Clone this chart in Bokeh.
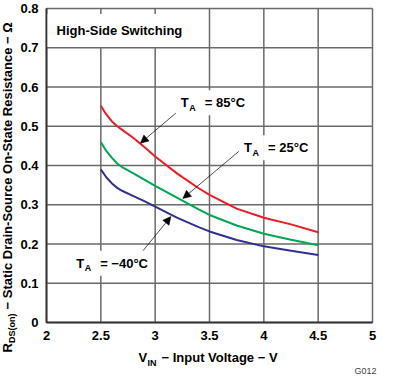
import math
from bokeh.plotting import figure
from bokeh.models import Range1d, FixedTicker, Label, Arrow, NormalHead, LinearAxis
from bokeh.embed import file_html
from bokeh.resources import INLINE

# ---- data ----
v_in = [2.5, 2.55, 2.6, 2.65, 2.7, 2.8, 2.9, 3.0, 3.2, 3.4, 3.5, 3.75, 4.0, 4.25, 4.5]
r_85 = [0.552, 0.530, 0.513, 0.500, 0.490, 0.470, 0.447, 0.423, 0.380, 0.342, 0.325, 0.290, 0.267, 0.250, 0.230]
r_25 = [0.460, 0.437, 0.420, 0.405, 0.395, 0.380, 0.364, 0.348, 0.318, 0.288, 0.274, 0.247, 0.226, 0.211, 0.197]
r_m40 = [0.390, 0.370, 0.355, 0.343, 0.335, 0.322, 0.309, 0.295, 0.267, 0.243, 0.232, 0.210, 0.194, 0.183, 0.172]

x_ticks = [2, 2.5, 3, 3.5, 4, 4.5, 5]
x_tick_labels = ["2", "2.5", "3", "3.5", "4", "4.5", "5"]
y_ticks = [0, 0.1, 0.2, 0.3, 0.4, 0.5, 0.6, 0.7, 0.8]
y_tick_labels = ["0", "0.1", "0.2", "0.3", "0.4", "0.5", "0.6", "0.7", "0.8"]

FONT = "Liberation Sans"
GRID = "#6a6a6a"
AXIS = "#333333"
W, H = 377, 376
# plot area inside the canvas (pixels)
FL, FR, FT, FB = 46, 372, 8, 322
XMIN, XMAX, YMIN, YMAX = 2, 5, 0, 0.8
sx = (FR - FL) / (XMAX - XMIN)
sy = (FB - FT) / (YMAX - YMIN)

p = figure(width=W, height=H, output_backend="svg", toolbar_location=None,
           x_range=Range1d(XMIN - FL / sx, XMAX + (W - FR) / sx),
           y_range=Range1d(YMIN - (H - FB) / sy, YMAX + FT / sy),
           x_axis_location=None, y_axis_location=None,
           min_border_left=0, min_border_right=0, min_border_top=0, min_border_bottom=0)
p.background_fill_color = "white"
p.border_fill_color = "white"
p.outline_line_color = None
p.xgrid.visible = False
p.ygrid.visible = False

# grid lines, one line renderer per grid line
for t in x_ticks:
    p.line([t, t], [YMIN, YMAX], line_color=GRID, line_width=1.5)
for t in y_ticks:
    p.line([XMIN, XMAX], [t, t], line_color=GRID, line_width=1.5)
# darker left and bottom axis edges
p.line([XMIN, XMIN, XMAX], [YMAX, YMIN, YMIN], line_color=AXIS, line_width=1.5)

# axes fixed at the plot-area edges (tick labels)
xax = LinearAxis(fixed_location=YMIN, bounds=(XMIN, XMAX))
yax = LinearAxis(fixed_location=XMIN, bounds=(YMIN, YMAX))
for ax, ticks, labels in ((xax, x_ticks, x_tick_labels), (yax, y_ticks, y_tick_labels)):
    ax.ticker = FixedTicker(ticks=ticks)
    ax.major_label_overrides = {t: l for t, l in zip(ticks, labels)}
    ax.major_tick_line_color = None
    ax.minor_tick_line_color = None
    ax.major_tick_out = 0
    ax.major_tick_in = 0
    ax.minor_tick_out = 0
    ax.minor_tick_in = 0
    ax.axis_line_color = AXIS
    ax.axis_line_width = 1.5
    ax.major_label_text_font = FONT
    ax.major_label_text_font_style = "bold"
    ax.major_label_text_font_size = "13px"
    ax.major_label_text_color = "black"
    ax.major_label_standoff = 8
p.add_layout(xax, "below")
p.add_layout(yax, "left")

p.line(v_in, r_85, line_color="#ED1C24", line_width=2)
p.line(v_in, r_25, line_color="#00A651", line_width=2)
p.line(v_in, r_m40, line_color="#2E3192", line_width=2)


def lab(x, y, text, size="13px", bold=True, xo=0, align="left", angle=0, color="black", bg=None, pad=0):
    kw = dict(x=x, y=y, text=text, text_font=FONT,
              text_font_style="bold" if bold else "normal", text_font_size=size,
              text_align=align, text_baseline="middle", angle=angle, text_color=color)
    if bg is not None:
        kw["background_fill_color"] = bg
        kw["background_fill_alpha"] = 1.0
    try:
        lb = Label(**kw, padding=pad, x_offset=xo - pad) if pad else Label(**kw, x_offset=xo)
    except Exception:
        lb = Label(**kw, x_offset=xo)
    p.add_layout(lb)


def px_x(px):
    return XMIN + (px - FL) / sx


def px_y(py):
    return YMAX - (py - FT) / sy


for xs, ys, xe, ye in ((3.21, 0.538, 2.864, 0.457),
                       (3.77, 0.436, 3.255, 0.316),
                       (2.80, 0.153, 3.145, 0.270)):
    p.add_layout(Arrow(x_start=xs, y_start=ys, x_end=xe, y_end=ye, line_width=0.7, line_color="black",
                       end=NormalHead(size=8, fill_color="black", line_color="black", line_width=0.5)))

lab(2.093, 0.744, "High-Side Switching", bg="white", pad=9)

# T_A labels (white background cuts the grid lines)
for (tx, ty, txt) in ((3.236, 0.560, "= 85°C"), (3.818, 0.445, "= 25°C"), (2.273, 0.151, "= \u221240°C")):
    lab(tx, ty, txt, xo=24, bg="white", pad=5)
    lab(tx, ty, "T", bg="white", pad=5)
    lab(tx, ty - 0.013, "A", size="9px", xo=8.5)

# x axis title: V_IN − Input Voltage − V
xl0 = px_x((FL + FR) / 2 - 71)
lab(xl0, px_y(357), "V")
lab(xl0, px_y(362), "IN", size="9px", xo=9)
lab(xl0, px_y(357), "\u2212 Input Voltage \u2212 V", xo=23)

# y axis title (rotated): R_DS(on) − Static Drain-Source On-State Resistance − Ω
yb = 352
lab(px_x(7), px_y(yb), "R", angle=math.pi / 2)
lab(px_x(11.5), px_y(yb - 9.6), "DS(on)", size="9px", angle=math.pi / 2)
lab(px_x(7), px_y(yb - 9.6 - 29.5 - 4), "\u2212 Static Drain-Source On-State Resistance \u2212 \u03a9", angle=math.pi / 2)

lab(px_x(376), px_y(370), "G012", size="9px", bold=False, align="right", color="#444444")

open("out.html", "w").write(file_html(p, INLINE))
